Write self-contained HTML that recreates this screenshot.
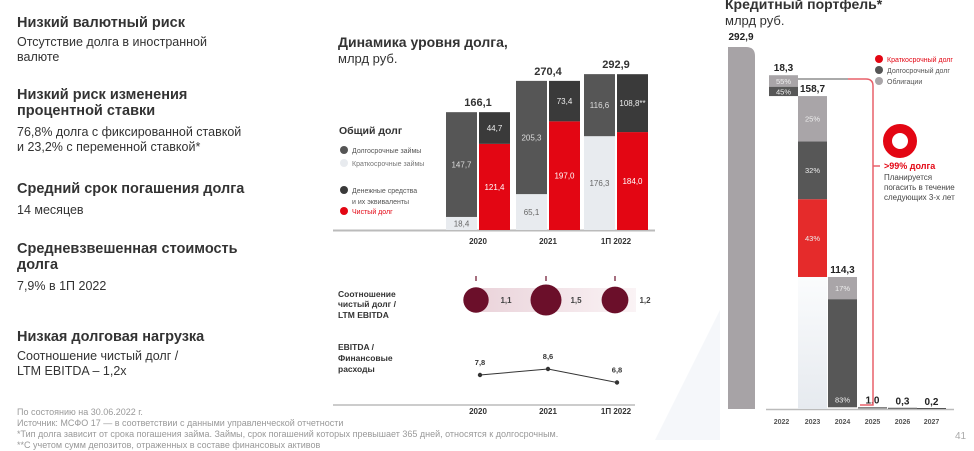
<!DOCTYPE html>
<html><head><meta charset="utf-8">
<style>
body{margin:0;width:974px;height:451px;overflow:hidden;background:#fff;font-family:"Liberation Sans","Noto Sans CJK SC",sans-serif;color:#333;position:relative}
.a{position:absolute;white-space:nowrap}
.h{font-weight:bold;font-size:14.5px;color:#333;line-height:16px}
.b{font-size:12.5px;color:#333;line-height:15px}
.fn{font-size:9px;color:#999;line-height:11px}
svg text{font-family:"Liberation Sans","Noto Sans CJK SC",sans-serif}
</style></head><body>
<div class="a h" style="left:17px;top:15px">Низкий валютный риск</div>
<div class="a b" style="left:17px;top:35px">Отсутствие долга в иностранной<br>валюте</div>
<div class="a h" style="left:17px;top:87px">Низкий риск изменения<br>процентной ставки</div>
<div class="a b" style="left:17px;top:125px">76,8% долга с фиксированной ставкой<br>и 23,2% с переменной ставкой*</div>
<div class="a h" style="left:17px;top:181px">Средний срок погашения долга</div>
<div class="a b" style="left:17px;top:203px">14 месяцев</div>
<div class="a h" style="left:17px;top:241px">Средневзвешенная стоимость<br>долга</div>
<div class="a b" style="left:17px;top:279px">7,9% в 1П 2022</div>
<div class="a h" style="left:17px;top:329px">Низкая долговая нагрузка</div>
<div class="a b" style="left:17px;top:349px">Соотношение чистый долг /<br>LTM EBITDA – 1,2x</div>
<div class="a fn" style="left:17px;top:407px">По состоянию на 30.06.2022 г.<br>Источник: МСФО 17 — в соответствии с данными управленческой отчетности<br>*Тип долга зависит от срока погашения займа. Займы, срок погашений которых превышает 365 дней, относятся к долгосрочным.<br>**С учетом сумм депозитов, отраженных в составе финансовых активов</div>
<div class="a" style="left:338px;top:34px;font-size:14px;font-weight:bold;color:#333">Динамика уровня долга,</div>
<div class="a" style="left:338px;top:51px;font-size:13px;color:#333">млрд руб.</div>
<div class="a" style="left:725px;top:-4px;font-size:14px;font-weight:bold;color:#333">Кредитный портфель*</div>
<div class="a" style="left:725px;top:13px;font-size:13px;color:#333">млрд руб.</div>
<div class="a" style="left:955px;top:431px;font-size:10px;color:#aaa">41</div>
<svg id="s" width="974" height="451" style="position:absolute;left:0;top:0">
<defs>
<linearGradient id="bandg" x1="0" x2="1" y1="0" y2="0"><stop offset="0" stop-color="#ead3da"/><stop offset="1" stop-color="#faf3f5"/></linearGradient>
<linearGradient id="ghostg" x1="0" x2="0" y1="0" y2="1"><stop offset="0" stop-color="#fbfcfd"/><stop offset="1" stop-color="#e6eaef"/></linearGradient>
</defs>
</svg>
<script>
const years=["2020","2021","1П 2022"];
const longLoans=[147.7,205.3,116.6];
const shortLoans=[18.4,65.1,176.3];
const cash=[44.7,73.4,108.8];
const netDebt=[121.4,197.0,184.0];
const totals=["166,1","270,4","292,9"];
const cashLabels=["44,7","73,4","108,8**"];
const ratio=[1.1,1.5,1.2];
const ratioLabels=["1,1","1,5","1,2"];
const cover=[7.8,8.6,6.8];
const coverLabels=["7,8","8,6","6,8"];
const pYears=["2022","2023","2024","2025","2026","2027"];
const pValues=[18.3,158.7,114.3,1.0,0.3,0.2];
const pLabels=["18,3","158,7","114,3","1,0","0,3","0,2"];
const pShort=[0,43,0];
const pLong=[45,32,83];
const pBonds=[55,25,17];
const portfolioTotal=292.9;
const portfolioTotalLabel="292,9";

const s=document.getElementById('s');
const NS='http://www.w3.org/2000/svg';
function mk(tag,at,name,txt){const e=document.createElementNS(NS,tag);for(const k in at)e.setAttribute(k,at[k]);


if(txt!==undefined)e.textContent=txt;s.appendChild(e);return e;}
function fmt(v){return v.toFixed(1).replace('.',',');}
mk('polygon',{points:'655,440 720,310 720,440',fill:'#f5f7fa'},'bg-shape');
// debt chart
const base=230, gx=[446,516,584], bw=31;
function hTot(v){return 68+0.3*v;}
mk('line',{x1:333,y1:base+0.5,x2:655,y2:base+0.5,stroke:'#bbb','stroke-width':2},'debt-x-axis');
years.forEach((y,i)=>{
 const t=longLoans[i]+shortLoans[i], H=hTot(t), k=H/t;
 const x=gx[i], hs=shortLoans[i]*k, hl=longLoans[i]*k;
 mk('rect',{x:x,y:base-hs,width:bw,height:hs,fill:'#e8ebef'},'bar-short-loans-'+i);
 mk('rect',{x:x,y:base-hs-hl,width:bw,height:hl,fill:'#565656'},'bar-long-loans-'+i);
 const hn=netDebt[i]*k, hc=cash[i]*k, x2=x+bw+2;
 mk('rect',{x:x2,y:base-hn,width:bw,height:hn,fill:'#e30613'},'bar-net-debt-'+i);
 mk('rect',{x:x2,y:base-hn-hc,width:bw,height:hc,fill:'#3a3a3a'},'bar-cash-'+i);
 mk('text',{x:x+bw/2,y:base-hs/2+3,'text-anchor':'middle','font-size':8,fill:'#666'},'label-short',fmt(shortLoans[i]));
 mk('text',{x:x+bw/2,y:base-hs-hl/2+3,'text-anchor':'middle','font-size':8,fill:'#ddd'},'label-long',fmt(longLoans[i]));
 mk('text',{x:x2+bw/2,y:base-hn/2+3,'text-anchor':'middle','font-size':8,fill:'#fff'},'label-net',fmt(netDebt[i]));
 mk('text',{x:x2+bw/2,y:base-hn-hc/2+3,'text-anchor':'middle','font-size':8,fill:'#eee'},'label-cash',cashLabels[i]);
 mk('text',{x:x+bw+1,y:base-H-6,'text-anchor':'middle','font-size':11,'font-weight':'bold',fill:'#333'},'label-total',totals[i]);
 mk('text',{x:x+bw+1,y:244,'text-anchor':'middle','font-size':8,'font-weight':'bold',fill:'#333'},'x-label',y);
 mk('text',{x:x+bw+1,y:414,'text-anchor':'middle','font-size':8,'font-weight':'bold',fill:'#333'},'x-label-bottom',y);
});
mk('text',{x:339,y:134,'font-size':10.5,'font-weight':'bold',fill:'#333'},'legend-title','Общий долг');
[['#555','Долгосрочные займы',153,'#555'],['#e8ebef','Краткосрочные займы',166,'#777'],['#3a3a3a','Денежные средства',193,'#555'],['#e30613','Чистый долг',214,'#e30613']].forEach((l,i)=>{
 mk('circle',{cx:344,cy:l[2]-3,r:4,fill:l[0]},'legend-dot');
 mk('text',{x:352,y:l[2],'font-size':7,fill:l[3]},'legend-entry',l[1]);
});
mk('text',{x:352,y:204,'font-size':7,fill:'#555'},'legend-entry','и их эквиваленты');
// ratio bubbles
mk('text',{x:338,y:297,'font-size':8.5,'font-weight':'bold',fill:'#333'},'ratio-title','Соотношение');
mk('text',{x:338,y:307,'font-size':8.5,'font-weight':'bold',fill:'#333'},'ratio-title','чистый долг /');
mk('text',{x:338,y:318,'font-size':8.5,'font-weight':'bold',fill:'#333'},'ratio-title','LTM EBITDA');
mk('text',{x:338,y:350,'font-size':8.5,'font-weight':'bold',fill:'#333'},'cover-title','EBITDA /');
mk('text',{x:338,y:361,'font-size':8.5,'font-weight':'bold',fill:'#333'},'cover-title','Финансовые');
mk('text',{x:338,y:372,'font-size':8.5,'font-weight':'bold',fill:'#333'},'cover-title','расходы');
const bx=[476,546,615];
mk('rect',{x:476,y:288,width:160,height:24,fill:'url(#bandg)'},'ratio-band');
ratio.forEach((v,i)=>{
 mk('line',{x1:bx[i],y1:276,x2:bx[i],y2:281,stroke:'#6b0f2a','stroke-width':1.2},'ratio-tick');
 mk('circle',{cx:bx[i],cy:300,r:5+v*7,fill:'#6b0f2a'},'ratio-bubble');
 mk('text',{x:bx[i]+30,y:303,'text-anchor':'middle','font-size':8,'font-weight':'bold',fill:'#444'},'ratio-label',ratioLabels[i]);
});
function cy(v){return 375-(v-7.8)*7.5;}
const cx=[480,548,617];
mk('polyline',{points:cover.map((v,i)=>cx[i]+','+cy(v)).join(' '),fill:'none',stroke:'#333','stroke-width':1},'cover-line');
cover.forEach((v,i)=>{
 mk('circle',{cx:cx[i],cy:cy(v),r:2.2,fill:'#333'},'cover-point');
 mk('text',{x:cx[i],y:cy(v)-10,'text-anchor':'middle','font-size':7.5,'font-weight':'bold',fill:'#333'},'cover-label',coverLabels[i]);
});
mk('line',{x1:333,y1:405,x2:635,y2:405,stroke:'#bbb','stroke-width':1.5},'bottom-axis');
// portfolio chart
const pb=409, sc=1.14, tsc=1.236;
const px=[769,798,828,858,888,917], pw=29;
function py(v){return pb-v*sc;}
const tTop=pb-portfolioTotal*tsc;
mk('path',{d:`M728 ${pb} V${tTop} H746 Q755 ${tTop} 755 ${tTop+9} V${pb} Z`,fill:'#a7a3a6'},'bar-portfolio-total');
mk('text',{x:741,y:tTop-7,'text-anchor':'middle','font-size':10,'font-weight':'bold',fill:'#222'},'label-portfolio-total',portfolioTotalLabel);
mk('line',{x1:766,y1:pb+0.5,x2:954,y2:pb+0.5,stroke:'#bbb','stroke-width':1.5},'portfolio-x-axis');
pValues.forEach((v,i)=>{
 let b=0;for(let j=i+1;j<pValues.length;j++)b+=pValues[j];
 const y0=py(b), H=v*sc, top=y0-H;
 if(i<3){
  if(i===1)mk('rect',{x:px[i],y:y0,width:pw,height:pb-y0,fill:'url(#ghostg)'},'bar-ghost');
  let y=y0;
  [[pShort[i],'#e52b2b'],[pLong[i],'#575757'],[pBonds[i],'#a9a5a8']].forEach((p,k)=>{
   if(!p[0])return;const h=H*p[0]/100;y-=h;
   mk('rect',{x:px[i],y:y,width:pw,height:h,fill:p[1]},'bar-segment-'+pYears[i]);
   const ly=(i===2&&k===1)?y0-5:y+h/2+3;
   mk('text',{x:px[i]+pw/2,y:ly,'text-anchor':'middle','font-size':7.5,fill:'#eee'},'segment-label',p[0]+'%');
  });
 } else {
  mk('rect',{x:px[i],y:y0-Math.max(H,1),width:pw,height:Math.max(H,1),fill:'#555'},'bar-'+pYears[i]);
 }
 mk('text',{x:px[i]+pw/2,y:top-4,'text-anchor':'middle','font-size':10,'font-weight':'bold',fill:'#222'},'value-label',pLabels[i]);
 mk('text',{x:px[i]+pw/2-(i===0?2:0),y:424,'text-anchor':'middle','font-size':7,'font-weight':'bold',fill:'#555'},'year-label',pYears[i]);
});
mk('line',{x1:798,y1:79,x2:848,y2:79,stroke:'#555','stroke-width':1},'connector-gray');
mk('path',{d:'M848 79 H866 Q873 79 873 86 V405 H860',fill:'none',stroke:'#e8606a','stroke-width':1.5},'connector-red');
mk('line',{x1:873,y1:166,x2:880,y2:166,stroke:'#e8606a','stroke-width':1.5},'connector-text');
[['#e30613','Краткосрочный долг',62],['#555','Долгосрочный долг',73],['#a9a5a8','Облигации',84]].forEach(l=>{
 mk('circle',{cx:879,cy:l[2]-3,r:4,fill:l[0]},'portfolio-legend-dot');
 mk('text',{x:887,y:l[2],'font-size':7,fill:l[0]==='#e30613'?'#e30613':'#555'},'portfolio-legend-entry',l[1]);
});
mk('circle',{cx:900,cy:141,r:12.5,fill:'none',stroke:'#e30613','stroke-width':9},'donut');
mk('text',{x:884,y:169,'font-size':9,'font-weight':'bold',fill:'#e30613'},'donut-headline','>99% долга');
['Планируется','погасить в течение','следующих 3-х лет'].forEach((t,i)=>mk('text',{x:884,y:180+i*10,'font-size':8,fill:'#444'},'donut-text',t));
</script>
</body></html>
